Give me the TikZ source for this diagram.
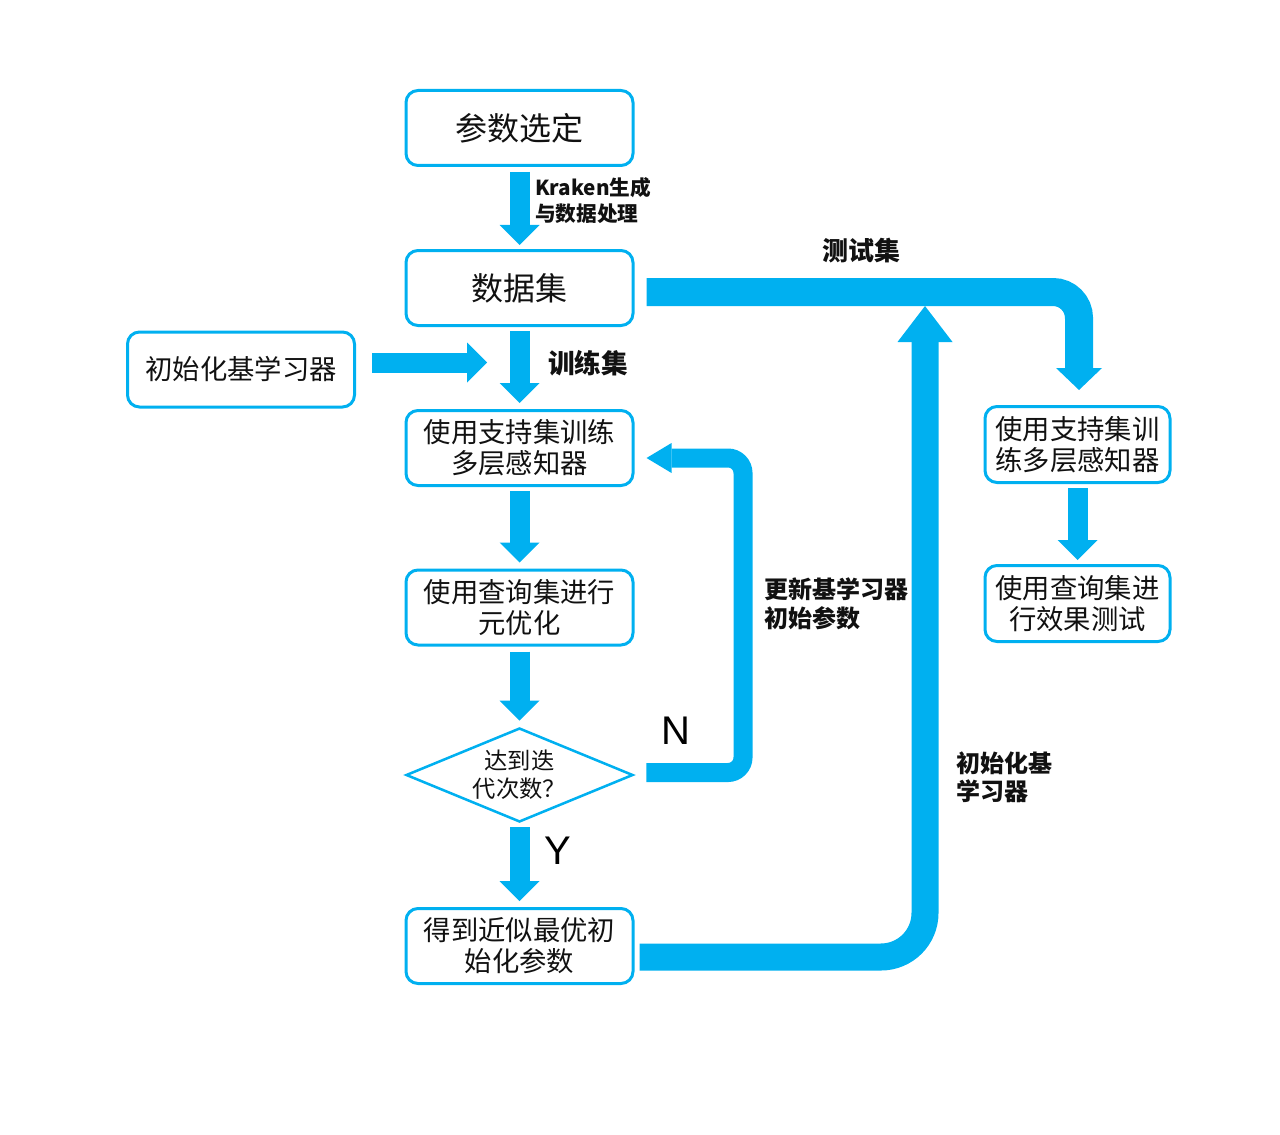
\documentclass[tikz,border=0pt]{standalone}
\usepackage{fontspec}
\setmainfont{Liberation Sans}
\newfontfamily\cjk{Noto Sans CJK SC}
\usetikzlibrary{arrows.meta,shapes.geometric,calc}
\definecolor{flowblue}{HTML}{00B0F0}
\definecolor{ink}{HTML}{111111}

\tikzset{
  box/.style={draw=flowblue, line width=2.25pt, rounded corners=9pt, fill=white,
    minimum width=170.25pt, minimum height=56.25pt, align=center, inner sep=2pt,
    text=ink, font=\cjk\fontsize{20.5pt}{23.25pt}\selectfont},
  bigbox/.style={box, font=\cjk\fontsize{24pt}{28pt}\selectfont},
  sidebox/.style={box, minimum width=138.75pt, minimum height=57pt},
  decision/.style={shape=diamond, draw=flowblue, line width=1.9pt, aspect=2.4,
    minimum width=170.25pt, minimum height=70.5pt, inner sep=0pt, align=center,
    text=ink, font=\cjk\fontsize{17.5pt}{21pt}\selectfont},
  tag/.style 2 args={text=ink, align=left, inner sep=0pt,
    font=\cjk\bfseries\fontsize{#1}{#2}\selectfont},
  yn/.style={text=black, inner sep=0pt, font=\fontsize{30pt}{36pt}\selectfont},
  pipe/.style={draw=flowblue, line width=15pt,
    -{Triangle[width=30pt,length=15pt,line width=0pt]}},
  looppipe/.style={draw=flowblue, line width=14.25pt, rounded corners=11.25pt,
    -{Triangle[width=22.5pt,length=18.75pt,line width=0pt]}},
  testpipe/.style={draw=flowblue, line width=21pt, rounded corners=19.5pt,
    -{Triangle[width=34.5pt,length=16.5pt,line width=0pt]}},
  initpipe/.style={draw=flowblue, line width=20.25pt, rounded corners=33pt,
    -{Triangle[width=41.25pt,length=27pt,line width=0pt]}}
}

\begin{document}
\begin{tikzpicture}[x=0.75pt,y=-0.75pt]
  \useasboundingbox (0,0) rectangle (1280,1134);

  % main column
  \node[bigbox] (param) at (519.5,128) {参数选定};
  \node[bigbox] (data)  at (519.5,288) {数据集};
  \node[box]    (init)  at (241,369.5) {初始化基学习器};
  \node[box]    (train) at (519.5,448) {使用支持集训练\\多层感知器};
  \node[box]    (meta)  at (519.5,607.5) {使用查询集进行\\元优化};
  \node[decision] (iter) at (519.5,775) {达到迭\\代次数？};
  \node[box]    (best)  at (519.5,946) {得到近似最优初\\始化参数};

  % test column
  \node[sidebox] (rtrain) at (1077.5,444.5) {使用支持集训\\练多层感知器};
  \node[sidebox] (rtest)  at (1077.5,603.5) {使用查询集进\\行效果测试};

  % free ends and bend columns
  \coordinate (join)  at (487,362.5);
  \coordinate (loopx) at (743,0);
  \coordinate (upx)   at (925,0);
  \coordinate (uptip) at (925,306);

  % straight connectors
  \draw[pipe] ($(param.south)+(0,5)$) -- ($(data.north)+(0,-4)$);
  \draw[pipe] ($(data.south)+(0,4)$) -- ($(train.north)+(0,-6)$);
  \draw[pipe] ($(init.east)+(16,-7)$) -- (join);
  \draw[pipe] ($(train.south)+(0,4)$) -- ($(meta.north)+(0,-6)$);
  \draw[pipe] ($(meta.south)+(0,5)$) -- ($(iter.north)+(0,-6)$);
  \draw[pipe] ($(iter.south)+(0,4)$) -- ($(best.north)+(0,-6)$);
  \draw[pipe] ($(rtrain.south)+(0,4)$) -- ($(rtest.north)+(0,-4)$);

  % loop back when the iteration count is not reached
  \coordinate (nstart) at ($(iter.east)+(12,-2.5)$);
  \coordinate (nend)   at ($(train.east)+(12,10)$);
  \draw[looppipe] (nstart) -- (nstart -| loopx) -- (nend -| loopx) -- (nend);

  % test set branch
  \coordinate (tstart) at ($(data.east)+(12,4)$);
  \coordinate (tend)   at ($(rtrain.north)+(1.5,-15)$);
  \draw[testpipe] (tstart) -- (tstart -| tend) -- (tend);

  % initialised learner fed to the test branch
  \coordinate (ustart) at ($(best.east)+(5,11)$);
  \draw[initpipe] (ustart) -- (ustart -| upx) -- (uptip);

  % labels
  \node[tag={15.5pt}{19.5pt}, anchor=west] (lkraken) at (535,201) {Kraken生成\\与数据处理};
  \node[tag={19.5pt}{24pt}] (ltest) at (861,251) {测试集};
  \node[tag={20pt}{24pt}, anchor=west] (ltrain) at (548,363) {训练集};
  \node[tag={18pt}{21.75pt}, anchor=west] (lupdate) at (764,604) {更新基学习器\\初始参数};
  \node[tag={18pt}{21pt}, anchor=west] (linit) at (956,777) {初始化基\\学习器};
  \node[yn] (lno)  at (676,731) {N};
  \node[yn] (lyes) at (558,851) {Y};
\end{tikzpicture}
\end{document}
